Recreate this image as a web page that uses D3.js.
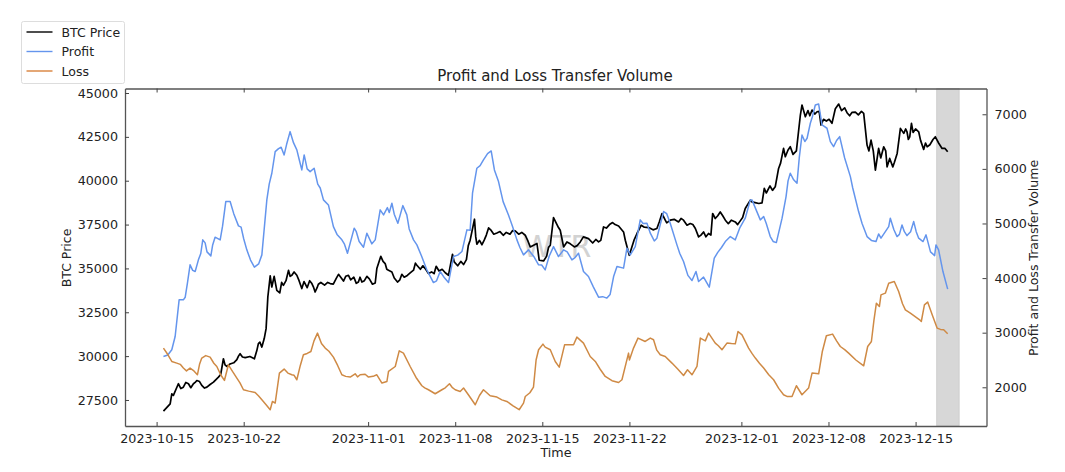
<!DOCTYPE html>
<html>
<head>
<meta charset="utf-8">
<script src="https://cdnjs.cloudflare.com/ajax/libs/d3/7.8.5/d3.min.js"></script>
<style>
  html, body { margin: 0; padding: 0; background: #fff; }
  text { font-family: "DejaVu Sans", sans-serif; fill: #222; }
</style>
</head>
<body>
<div id="chart"></div>
<script>
// days since 2023-10-15
const btcDays = [.55,1.09,1.22,1.35,1.75,2.15,2.56,2.96,3.23,3.63,4.04,4.57,4.97,5.37,5.64,6.45,6.71,7.12,7.86,8.18,8.46,8.8,8.94,9.13,9.26,9.45,9.66,10.19,10.6,10.87,11.27,11.67,12.48,12.74,13,13.95,14.62,15.02,15.42,16.22,16.5,16.9,17.57,17.7,18.02,18.37,18.64,18.91,19.36,19.71,20.38,20.92,21.59,21.85,22.47,23.46,23.78,23.92,24.67,25.2,25.55,25.65,25.74,26.33,26.68,27.35,27.86,28.82,29.63,30.03,30.57,30.75,31.1,31.64,31.9,32.3,32.44,32.71,32.98,33.58,34.05,34.71,35.52,35.92,36.65,37.13,37.53,37.67,37.99,38.39,38.61,38.95,39.55,40.21,40.62,40.88,41.28,42.35,42.63,42.89,43.3,43.56,43.96,44.36,44.69,44.9,45.3,45.71,46.51,46.91,47.31,47.72,47.85,48.66,48.84,49.72,49.99,50.39,50.53,50.93,51.42,51.74,51.87,52.14,52.68,53.08,53.4,53.83,54.28,54.82,55.49,56.16,56.83,57.1,57.42,57.77,58.03,58.44,58.71,58.92,59.17,59.52,59.78,60.31,60.53,60.67,61.25,61.65,61.93,62.59,63.13,63.58];
const btcPrice = [26860,27280,27850,27760,28425,28230,28425,28425,28610,28330,28230,28515,28800,29850,29410,29795,30135,29910,29850,30710,30515,31565,33370,34570,33940,34550,33750,34035,34890,34610,34610,33850,34135,33655,34095,34135,34665,34280,34610,34225,34225,34550,34170,34990,35690,35275,34890,34795,34225,34665,34740,35180,34990,34705,35120,34610,35805,35370,35220,36610,37805,36795,36380,36610,37310,37020,36890,37140,36890,36225,36420,35465,35425,36320,37900,37330,37175,36225,36510,36225,36510,36700,36510,37365,37615,37420,37080,36605,35750,36645,36990,37465,37330,37275,38130,37750,37750,37750,37465,37560,37275,36795,37080,36990,38130,37845,38220,37750,37650,37710,38415,38890,38795,38735,39560,39650,40700,41840,41365,41935,41705,43745,44315,43645,44030,43930,43175,43400,43270,44370,43875,43915,43840,42030,42315,40600,41840,41935,40790,41270,40790,41555,42985,42790,42505,43270,42790,41785,41935,42505,41840,41650];
// second pass of readings, the small wiggles between the points above
const btcDetail = [[1.95,28150],[2.35,28500],[2.75,28200],[3.1,28500],[3.45,28550],[3.85,28180],[4.3,28380],[4.75,28650],[5.15,28950],[5.5,29500],[5.9,29550],[6.2,29620],[6.58,30000],[6.9,29950],[7.5,29980],[8.05,30300],[8.3,30800],[8.65,31000],[9.9,33600],[10.05,34200],[10.4,34300],[10.73,34550],[11.05,34800],[11.45,34300],[11.85,34250],[12.1,33900],[12.3,34300],[12.6,33950],[12.9,33900],[13.2,34200],[13.5,34050],[13.75,34200],[14.2,34100],[14.45,34450],[14.8,34500],[15.2,34550],[15.6,34350],[15.85,34500],[16.05,34150],[16.35,34500],[16.7,34300],[17.1,34400],[17.35,34100],[18.2,35400],[18.5,34950],[19.1,34450],[19.55,34350],[19.9,34500],[20.15,34600],[20.65,34900],[20.8,35300],[21.2,34950],[21.4,35150],[22.1,34800],[22.3,34700],[22.7,34850],[22.95,34950],[23.2,34750],[24.2,35150],[24.45,35400],[24.9,35500],[25.05,36300],[25.95,36600],[26.15,36350],[26.5,36900],[26.85,37200],[27.1,36950],[27.6,37100],[28.1,37050],[28.4,36950],[28.6,37150],[29.1,36950],[29.35,37050],[29.85,36550],[31.35,35700],[31.5,36200],[33.25,36400],[33.8,36300],[34.3,36800],[35.05,36450],[35.3,36650],[35.7,36600],[36.15,37300],[36.4,37500],[36.85,37500],[39.2,37350],[39.9,37200],[40.4,37650],[41,37600],[41.6,37800],[41.95,37650],[42.15,37850],[43.1,37500],[43.75,36900],[44.15,36800],[44.55,36900],[45.1,38000],[45.5,38000],[45.95,37550],[46.2,37750],[46.7,37500],[47.1,37900],[48.1,38750],[48.4,38700],[49,39300],[49.3,39700],[49.5,39450],[50.15,41000],[50.75,41750],[51.15,41500],[52.35,44000],[52.5,43700],[52.9,43800],[53.25,43950],[53.6,43500],[54.05,43500],[54.55,44100],[55.05,44000],[55.3,44150],[55.7,43700],[55.9,43900],[56.4,43750],[56.65,43950],[57.25,41700],[57.6,41700],[58.2,41300],[58.6,41700],[59.3,41050],[60.05,42700],[60.2,42950],[60.42,42350],[60.8,42750],[61,42950],[61.4,42300],[61.8,42150],[62.15,42050],[62.4,42350],[62.85,42150],[63.35,41850]];

const profitDays = [.55,1.22,1.49,1.81,2.15,2.48,2.69,3.1,3.36,3.71,3.9,4.36,4.7,5.11,5.56,5.91,6.58,6.79,7.25,7.86,8.46,8.86,9.26,9.53,10.01,10.25,10.73,11.27,11.67,11.86,12.34,12.66,13.41,13.81,14.21,14.89,15.34,15.88,16.28,16.63,16.9,17.3,17.57,17.97,18.24,18.91,19.39,19.79,20.11,20.65,20.92,22.25,22.79,23.46,23.86,24.54,24.94,25.2,25.39,25.74,26.27,26.89,27.48,28.28,28.96,29.49,29.89,30.7,31.23,31.9,32.3,32.71,33.38,33.91,34.31,34.71,35.52,36.19,36.73,37,37.53,37.8,38.07,38.47,38.87,39.41,39.68,40.21,40.75,41.28,41.82,42.35,43.03,43.35,43.56,43.96,44.42,44.82,45.71,46.11,46.51,46.86,47.31,47.72,47.85,48.52,48.79,49.32,49.81,50.27,50.59,50.93,51.47,51.87,52.28,52.54,52.94,53.21,53.48,53.88,54.41,54.9,55.76,56.42,57.1,57.82,58.03,58.22,58.84,58.97,59.51,59.91,60.31,60.85,61.25,61.6,61.84,62.53,62.64,62.85,63.58];
const profitVolume = [2564,2687,2930,3602,3602,3913,4242,4120,4334,4700,4645,4407,4749,4700,5401,5401,4956,4932,4517,4200,4425,5432,5920,6316,6396,6255,6682,6347,5981,6255,5950,6012,5432,5340,4943,4700,4456,4914,4669,4566,4822,4627,4700,5249,5157,5371,5005,5327,5157,4700,4608,3918,4120,3918,4394,4486,4883,4874,5554,6012,6164,6328,5767,5157,4700,4425,4517,4243,4151,4577,4394,4517,4334,4456,4120,4028,3651,3633,4028,4211,4182,4548,4425,4577,5066,5005,4822,4731,5218,5005,4608,4303,3955,4120,3937,4017,3834,4365,4669,4760,4700,4914,5097,5432,5432,5066,5126,4760,4650,5097,5492,5920,5737,6621,6561,6835,7170,7188,6804,6744,6407,6590,5858,5218,4760,4669,4809,4731,4943,5097,4760,4974,4778,5035,4731,4669,4791,4412,4608,4517,3797];
const profitDetail = [[.9,2590],[2.3,3650],[2.9,4140],[3.55,4450],[4.05,4480],[4.5,4600],[5.3,4950],[6.2,5180],[7,4720],[7.55,4330],[8.2,4260],[9.05,5720],[9.8,6370],[10.45,6450],[11,6480],[11.45,6180],[12.1,6000],[12.95,5720],[13.15,5650],[14.5,4800],[15.1,4620],[16.05,4850],[18.55,5290],[18.7,5200],[19.1,5170],[20.3,4900],[21.3,4400],[21.7,4160],[22.5,3950],[23.15,4000],[24.2,4420],[26,6060],[26.6,6280],[27.15,5980],[27.85,5400],[28.6,4950],[29.2,4560],[30.3,4400],[30.95,4240],[31.55,4400],[33,4480],[33.65,4380],[35.1,3840],[35.85,3660],[36.45,3700],[39.1,5000],[40,4680],[40.5,5000],[41,5180],[42.05,4450],[42.7,4050],[45.1,4470],[45.4,4560],[49,5000],[49.55,4670],[50.75,5780],[51.2,5800],[51.65,6200],[52.1,6500],[52.7,6950],[54.15,6500],[54.65,6520],[55.3,6200],[55.95,5650],[56.7,5000],[57.45,4690],[59.25,4890],[59.7,4800],[60.1,4850],[60.6,4850],[61.05,4850],[62.2,4480],[63.2,4120]];

const lossDays = [.55,1.22,1.62,2.15,2.69,3.28,3.63,4.3,4.84,5.45,5.77,6.45,6.98,7.92,8.46,9.13,9.31,9.53,9.87,10.25,10.87,11.27,11.8,12.4,12.93,13.55,14.21,14.89,15.56,15.96,16.36,16.76,17.03,17.7,18.11,18.51,18.64,19.18,19.5,19.84,20.38,21.32,21.85,22.39,22.93,23.54,24,24.4,24.67,25.61,26.27,26.81,27.35,28.15,29.14,29.49,29.63,30.29,30.7,31.05,31.23,31.64,32.04,32.36,32.79,33.51,33.78,34.31,34.85,35.26,36.06,37.13,37.4,37.93,38.33,38.69,39.27,39.68,39.94,40.48,40.88,41.42,42.35,42.67,43.03,43.43,43.7,44.36,44.9,45.44,45.84,46.51,46.73,47.05,47.58,48.12,48.79,49.59,50.39,51.07,51.42,51.87,52.4,52.68,53.21,53.83,54.33,54.95,55.62,56.83,57.15,57.45,57.85,58.09,58.22,58.57,58.84,59.29,59.64,60.18,60.58,61.46,61.71,61.97,62.73,63.26,63.58];
const lossVolume = [2718,2473,2443,2352,2352,2229,2535,2553,2381,2125,2412,2169,1955,1905,1770,1589,1741,1711,2260,2333,2229,2138,2595,2656,2992,2718,2553,2229,2187,2247,2229,2238,2187,2229,2077,2106,2290,2381,2668,2626,2381,2028,1955,1882,1955,2065,1955,1924,1986,1680,1955,1845,1821,1741,1589,1711,1832,2004,2687,2791,2736,2687,2473,2370,2778,2778,2919,2809,2564,2473,2198,2088,2138,2626,2718,2901,2839,2901,2870,2595,2564,2443,2216,2321,2229,2381,2901,2992,2809,2687,2809,2796,3022,2961,2718,2535,2352,2138,1863,1832,2028,1863,1986,2260,2247,2943,2974,2747,2626,2394,2747,2838,3541,3479,3693,3724,3907,3937,3754,3419,3358,3205,3510,3560,3084,3053,2980];
const lossDetail = [[.9,2600],[1.9,2420],[2.4,2300],[3,2300],[3.45,2420],[3.95,2580],[4.6,2440],[5.15,2230],[6.1,2290],[6.7,2080],[7.4,1930],[8.2,1840],[8.8,1680],[10.55,2260],[11.05,2220],[11.55,2400],[12.1,2620],[12.65,2850],[13.25,2800],[13.85,2660],[14.55,2400],[15.2,2200],[16.15,2190],[17.4,2200],[20.85,2180],[21.55,1990],[23.2,1990],[23.75,2000],[25.1,1850],[25.95,1850],[27.75,1770],[28.65,1660],[30,1900],[30.5,2500],[35.65,2330],[36.6,2120],[38,2500],[40.2,2680],[41.9,2330],[44.1,2850],[45.15,2760],[46.2,2800],[47.85,2620],[48.45,2440],[49.2,2230],[50,1980],[50.7,1830],[53.5,2650],[54.65,2850],[55.3,2690],[56.2,2500],[57.65,3220],[59.95,3530],[61.05,3280],[61.3,3240],[62.35,3320],[63,3060]];

const dateTicks = ["2023-10-15","2023-10-22","2023-11-01","2023-11-08","2023-11-15","2023-11-22","2023-12-01","2023-12-08","2023-12-15"];
const priceTicks = [27500,30000,32500,35000,37500,40000,42500,45000];
const volumeTicks = [2000,3000,4000,5000,6000,7000];
const shadedDays = [62.7,64.5];

const width = 1065, height = 472;
const margin = { top: 88.5, right: 78.5, bottom: 46, left: 125 };
const innerW = width - margin.left - margin.right;
const innerH = height - margin.top - margin.bottom;

const dayToDate = (d) => new Date(Date.UTC(2023, 9, 15) + d * 864e5);

const x = d3.scaleUtc()
  .domain([dayToDate(-2.54), dayToDate(66.7)])
  .range([0, innerW]);
const yPrice = d3.scaleLinear().domain([26016, 45257]).range([innerH, 0]);
const yVolume = d3.scaleLinear().domain([1291, 7472]).range([innerH, 0]);

const svg = d3.select("#chart").append("svg")
  .attr("width", width)
  .attr("height", height)
  .style("display", "block");

const plot = svg.append("g")
  .attr("transform", "translate(" + margin.left + "," + margin.top + ")");

// shaded band at the end
plot.append("rect")
  .attr("x", x(dayToDate(shadedDays[0])))
  .attr("y", 0)
  .attr("width", x(dayToDate(shadedDays[1])) - x(dayToDate(shadedDays[0])))
  .attr("height", innerH)
  .attr("fill", "#d7d7d7")
  .attr("stroke", "#c8c8c8")
  .attr("stroke-width", 0.8);

// watermark
plot.append("text")
  .attr("x", 557 - margin.left)
  .attr("y", 257 - margin.top)
  .attr("text-anchor", "middle")
  .attr("font-size", 30)
  .style("fill", "#d2d2d2")
  .text("WTR");

function drawLine(days, values, detail, yScale, color, strokeWidth) {
  const points = days.map((d, i) => [d, values[i]]).concat(detail);
  points.sort((a, b) => d3.ascending(a[0], b[0]));
  const line = d3.line()
    .x((d) => x(dayToDate(d[0])))
    .y((d) => yScale(d[1]));
  plot.append("path")
    .datum(points)
    .attr("fill", "none")
    .attr("stroke", color)
    .attr("stroke-width", strokeWidth)
    .attr("stroke-linejoin", "round")
    .attr("d", line);
}

drawLine(btcDays, btcPrice, btcDetail, yPrice, "#000", 1.7);
drawLine(profitDays, profitVolume, profitDetail, yVolume, "#6495ed", 1.5);
drawLine(lossDays, lossVolume, lossDetail, yVolume, "#cf8a45", 1.5);

// axes, ticks point inward like the old matplotlib style
const parseDay = d3.utcParse("%Y-%m-%d");
const dateValues = dateTicks.map(parseDay);

function styleAxis(g) {
  g.selectAll("path").attr("stroke", "#555").attr("stroke-width", 1.3);
  g.selectAll("line").attr("stroke", "#444").attr("stroke-width", 1);
  g.selectAll("text").attr("font-size", 12.7);
}

plot.append("g")
  .attr("transform", "translate(0," + innerH + ")")
  .call(d3.axisBottom(x).tickValues(dateValues).tickFormat(d3.utcFormat("%Y-%m-%d")).tickSizeInner(-4).tickSizeOuter(0).tickPadding(8))
  .call(styleAxis);

plot.append("g")
  .call(d3.axisTop(x).tickValues(dateValues).tickFormat("").tickSizeInner(-4).tickSizeOuter(0))
  .call(styleAxis);

plot.append("g")
  .call(d3.axisLeft(yPrice).tickValues(priceTicks).tickFormat(d3.format("d")).tickSizeInner(-4).tickSizeOuter(0).tickPadding(7))
  .call(styleAxis);

plot.append("g")
  .attr("transform", "translate(" + innerW + ",0)")
  .call(d3.axisRight(yVolume).tickValues(volumeTicks).tickFormat(d3.format("d")).tickSizeInner(-4).tickSizeOuter(0).tickPadding(8))
  .call(styleAxis);

// title and axis labels
svg.append("text")
  .attr("x", 555).attr("y", 81)
  .attr("text-anchor", "middle")
  .attr("font-size", 15)
  .text("Profit and Loss Transfer Volume");

svg.append("text")
  .attr("x", 556).attr("y", 456.5)
  .attr("text-anchor", "middle")
  .attr("font-size", 12.7)
  .text("Time");

svg.append("text")
  .attr("transform", "translate(71,258) rotate(-90)")
  .attr("text-anchor", "middle")
  .attr("font-size", 12.5)
  .text("BTC Price");

svg.append("text")
  .attr("transform", "translate(1038,258) rotate(-90)")
  .attr("text-anchor", "middle")
  .attr("font-size", 12.5)
  .text("Profit and Loss Transfer Volume");

// legend
const legendNames = ["BTC Price", "Profit", "Loss"];
const legendColors = ["#000", "#6495ed", "#d9823b"];

const legend = svg.append("g").attr("transform", "translate(21.5,21.5)");
legend.append("rect")
  .attr("width", 103)
  .attr("height", 62)
  .attr("rx", 2)
  .attr("fill", "#fff")
  .attr("stroke", "#ddd");

const legendRow = legend.selectAll("g")
  .data(legendNames)
  .enter()
  .append("g")
  .attr("transform", (d, i) => "translate(0," + (10.5 + i * 19.5) + ")");

legendRow.append("line")
  .attr("x1", 5).attr("x2", 31)
  .attr("stroke", (d, i) => legendColors[i])
  .attr("stroke-width", 1.4);

legendRow.append("text")
  .attr("x", 40)
  .attr("y", 4.5)
  .attr("font-size", 12.5)
  .text((d) => d);
</script>
</body>
</html>
